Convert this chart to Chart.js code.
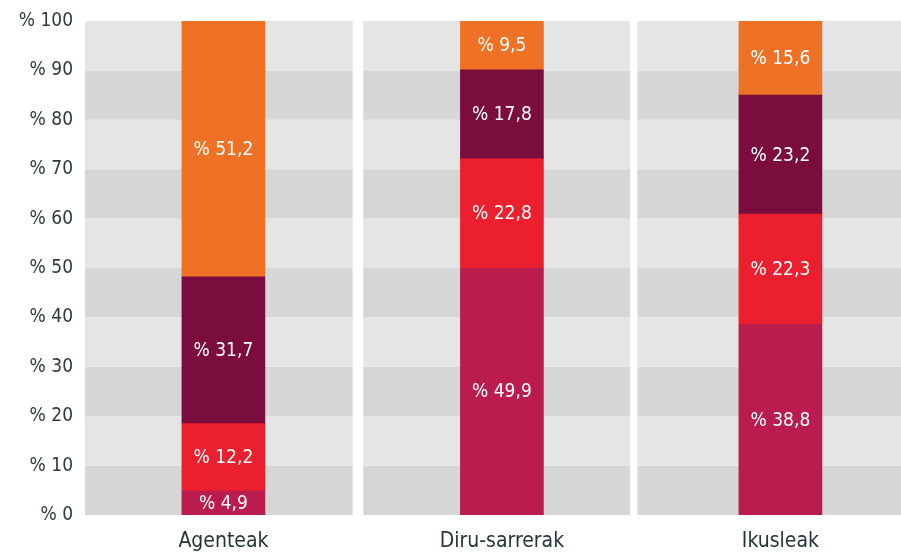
<!DOCTYPE html>
<html>
<head>
<meta charset="utf-8">
<script src="https://cdn.jsdelivr.net/npm/chart.js@4"></script>
<style>
  html, body { margin: 0; padding: 0; background: #fff; }
  #wrap { width: 901px; height: 555px; }
</style>
</head>
<body>
<div id="wrap"><canvas id="myChart" width="901" height="555"></canvas></div>
<script>
// categories and stacked segment heights as drawn (bottom to top)
const categories = ['Agenteak', 'Diru-sarrerak', 'Ikusleak'];
const serie1 = [4.9, 50.0, 38.6];
const serie2 = [13.6, 22.1, 22.3];
const serie3 = [29.7, 18.0, 24.1];
const serie4 = [51.8, 9.9, 15.0];
// percentages printed on the segments
const label1 = ['4,9', '49,9', '38,8'];
const label2 = ['12,2', '22,8', '22,3'];
const label3 = ['31,7', '17,8', '23,2'];
const label4 = ['51,2', '9,5', '15,6'];
const yTicks = [0, 10, 20, 30, 40, 50, 60, 70, 80, 90, 100];

const colors = ['#BA1C4D', '#EB1F2D', '#7B0C3E', '#EF7125'];
const FONT = "'Liberation Sans Narrow', 'DejaVu Sans Condensed', sans-serif";

// bars sit on a linear x scale so they can be slightly off the panel centres
const pts = arr => arr.map((v, i) => ({ x: i, y: v }));

// grey panels with alternating bands
const bandsPlugin = {
  id: 'bands',
  beforeDatasetsDraw(chart) {
    const { ctx, chartArea, scales } = chart;
    const y = scales.y;
    const w = chartArea.right - chartArea.left;
    const edges = [
      [chartArea.left, chartArea.left + w * 0.328],
      [chartArea.left + w * 0.341, chartArea.left + w * 0.668],
      [chartArea.left + w * 0.677, chartArea.right]
    ];
    ctx.save();
    edges.forEach(([l, r]) => {
      for (let k = 0; k < yTicks.length - 1; k++) {
        const top = y.getPixelForValue(yTicks[k + 1]);
        const bot = y.getPixelForValue(yTicks[k]);
        ctx.fillStyle = k % 2 === 0 ? '#d6d6d6' : '#e5e5e5';
        ctx.fillRect(l, top, r - l, bot - top);
      }
    });
    ctx.restore();
  }
};

// white value labels in the middle of each segment
const labelsPlugin = {
  id: 'segLabels',
  afterDatasetsDraw(chart) {
    const { ctx } = chart;
    const texts = [label1, label2, label3, label4];
    ctx.save();
    ctx.fillStyle = '#ffffff';
    ctx.font = '19px ' + FONT;
    ctx.textAlign = 'center';
    ctx.textBaseline = 'middle';
    chart.data.datasets.forEach((ds, di) => {
      chart.getDatasetMeta(di).data.forEach((bar, i) => {
        ctx.fillText('% ' + texts[di][i], bar.x, (bar.y + bar.base) / 2 + 1);
      });
    });
    ctx.restore();
  }
};

const ctx = document.getElementById('myChart').getContext('2d');
const myChart = new Chart(ctx, {
  type: 'bar',
  data: {
    datasets: [
      { label: 'serie1', data: pts(serie1), backgroundColor: colors[0] },
      { label: 'serie2', data: pts(serie2), backgroundColor: colors[1] },
      { label: 'serie3', data: pts(serie3), backgroundColor: colors[2] },
      { label: 'serie4', data: pts(serie4), backgroundColor: colors[3] }
    ]
  },
  options: {
    responsive: false,
    animation: false,
    layout: { padding: { top: 21, right: 0, left: 0, bottom: 0 } },
    datasets: { bar: { barThickness: 83 } },
    plugins: {
      legend: { display: false },
      tooltip: { enabled: false }
    },
    scales: {
      x: {
        type: 'linear',
        stacked: true,
        offset: false,
        min: -0.497,
        max: 2.433,
        grid: { display: false, drawTicks: false, offset: false },
        border: { display: false },
        afterBuildTicks(scale) { scale.ticks = categories.map((c, i) => ({ value: i })); },
        ticks: {
          color: '#263535',
          font: { family: FONT, size: 21 },
          padding: 14,
          callback: v => categories[v]
        },
        afterFit(scale) { scale.height = 40; }
      },
      y: {
        stacked: true,
        min: 0,
        max: 100,
        grid: { display: false, drawTicks: false },
        border: { display: false },
        afterFit(scale) {
          scale.width = 85;
          scale.paddingTop = 0;
          scale.paddingBottom = 0;
        },
        afterBuildTicks(scale) { scale.ticks = yTicks.map(v => ({ value: v })); },
        ticks: {
          color: '#2f3b3b',
          font: { family: FONT, size: 19 },
          padding: 12,
          callback: v => '% ' + v
        }
      }
    }
  },
  plugins: [bandsPlugin, labelsPlugin]
});
</script>
</body>
</html>
